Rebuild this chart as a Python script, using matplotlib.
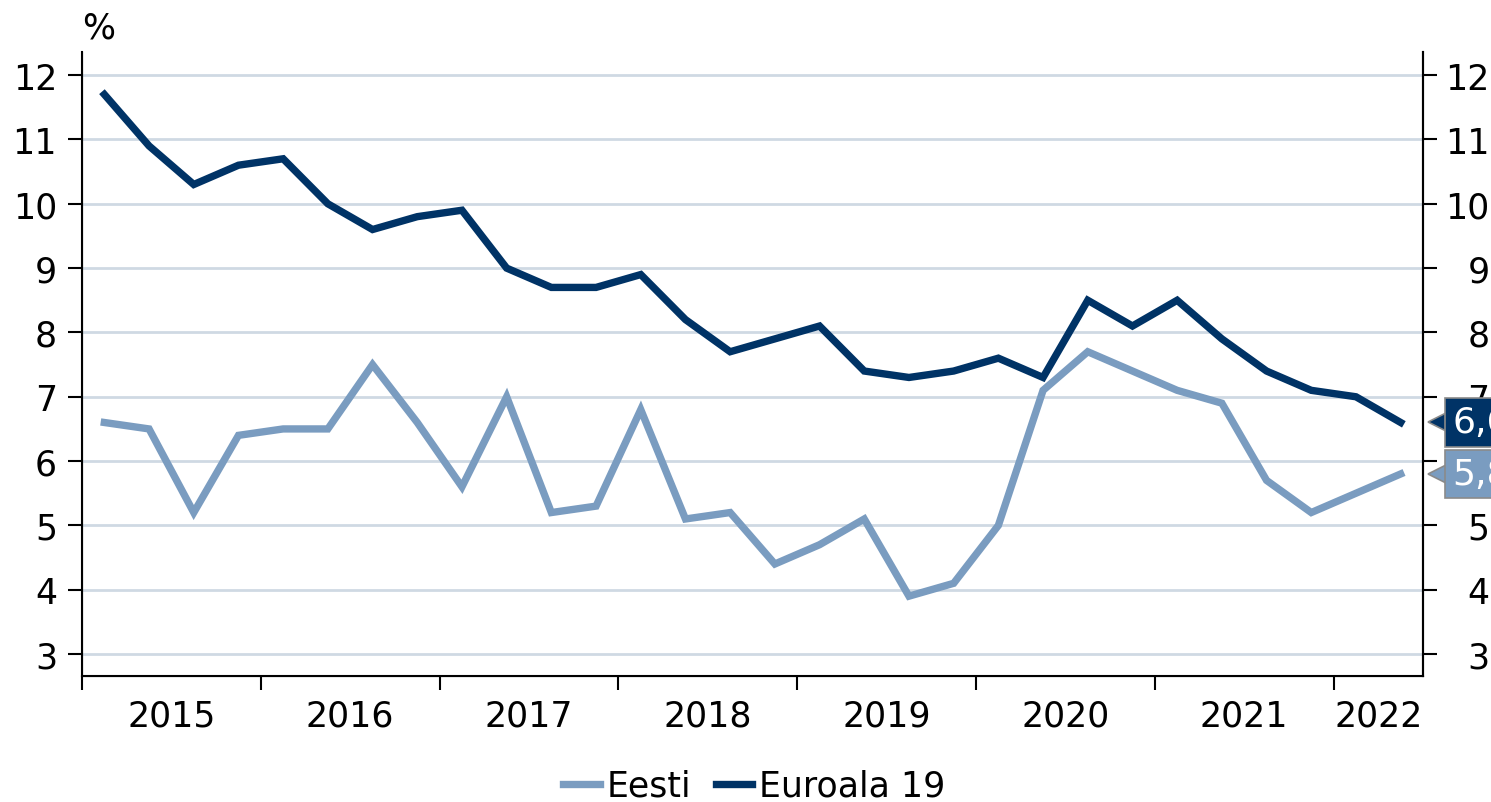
import numpy as np
import matplotlib
matplotlib.use("Agg")
from matplotlib import pyplot as plt
from matplotlib import transforms

# Töötuse määr kvartalite kaupa, 2015 I kv - 2022 II kv
quarters = [f"{y}Q{q}" for y in range(2015, 2023) for q in range(1, 5)][:30]
eesti = [6.6, 6.5, 5.2, 6.4, 6.5, 6.5, 7.5, 6.6, 5.6, 7.0,
         5.2, 5.3, 6.8, 5.1, 5.2, 4.4, 4.7, 5.1, 3.9, 4.1,
         5.0, 7.1, 7.7, 7.4, 7.1, 6.9, 5.7, 5.2, 5.5, 5.8]
euroala = [11.7, 10.9, 10.3, 10.6, 10.7, 10.0, 9.6, 9.8, 9.9, 9.0,
           8.7, 8.7, 8.9, 8.2, 7.7, 7.9, 8.1, 7.4, 7.3, 7.4,
           7.6, 7.3, 8.5, 8.1, 8.5, 7.9, 7.4, 7.1, 7.0, 6.6]
years = list(range(2015, 2023))
yticks = list(range(3, 13))

c_light = "#7a9cc0"
c_dark = "#003366"
c_grid = "#cfd9e3"
fs = 25

plt.rcParams['font.family'] = ['DejaVu Sans']

# kvartali keskpunkt aastaskaalal
x = np.array([int(q[:4]) + (int(q[-1]) - 0.5) / 4 for q in quarters])

fig = plt.figure(figsize=(14.91, 8.03), dpi=100)
ax = fig.add_axes([0.055, 0.157, 0.8994, 0.777])

ax.plot(x, eesti, color=c_light, lw=5.3, solid_joinstyle='miter', label="Eesti", zorder=3)
ax.plot(x, euroala, color=c_dark, lw=5.3, solid_joinstyle='miter', label="Euroala 19", zorder=3)

ax.set_xlim(2015, 2022.5)
ax.set_ylim(2.66, 12.36)
ax.set_yticks(yticks)
ax.grid(axis='y', color=c_grid, lw=2)
ax.set_axisbelow(True)

ax.set_xticks(years)
ax.set_xticklabels([])
centers = [min(y + 0.5, (y + 2022.5) / 2) for y in years]
ax.set_xticks(centers, minor=True)
ax.set_xticklabels([str(y) for y in years], minor=True, fontsize=fs)
ax.tick_params(axis='x', which='major', length=10, width=1.5, direction='out')
ax.tick_params(axis='x', which='minor', length=0, pad=16)
ax.tick_params(axis='y', length=10, width=1.5, labelsize=fs, pad=8)

for s in ['left', 'bottom', 'right']:
    ax.spines[s].set_linewidth(1.5)
ax.spines['top'].set_visible(False)

ax2 = ax.twinx()
ax2.set_ylim(ax.get_ylim())
ax2.set_yticks(yticks)
ax2.tick_params(axis='y', length=10, width=1.5, labelsize=fs, pad=38)
for t in ax2.get_yticklabels():
    t.set_horizontalalignment('right')
ax2.spines['top'].set_visible(False)
ax2.spines['right'].set_linewidth(1.5)

# viimase väärtuse sildid paremal
blend = transforms.blended_transform_factory(ax2.transAxes, ax2.transData)
for vals, col in [(euroala, c_dark), (eesti, c_light)]:
    v = vals[-1]
    mtr = transforms.offset_copy(blend, fig=fig, x=13, y=0, units='points')
    ax2.plot([1.0], [v], marker='<', ms=19, color=col, mec='#8a8a8a', mew=1.2,
             transform=mtr, clip_on=False, zorder=5)
    ax2.annotate(f"{v:.1f}".replace('.', ','), xy=(1.0, v), xycoords=blend,
                 xytext=(21, 0), textcoords='offset points', ha='left', va='center',
                 fontsize=fs + 1, color='white', zorder=6, annotation_clip=False,
                 bbox=dict(boxstyle='square,pad=0.2', fc=col, ec='#8a8a8a', lw=1.2))

fig.text(0.055, 0.965, "%", fontsize=fs, ha='left', va='center')

fig.legend(loc='lower center', bbox_to_anchor=(0.506, -0.04), ncol=2, frameon=False,
           fontsize=fs, handlelength=1.05, handletextpad=0.2, columnspacing=0.7)

fig.savefig("out.png", dpi=100)
